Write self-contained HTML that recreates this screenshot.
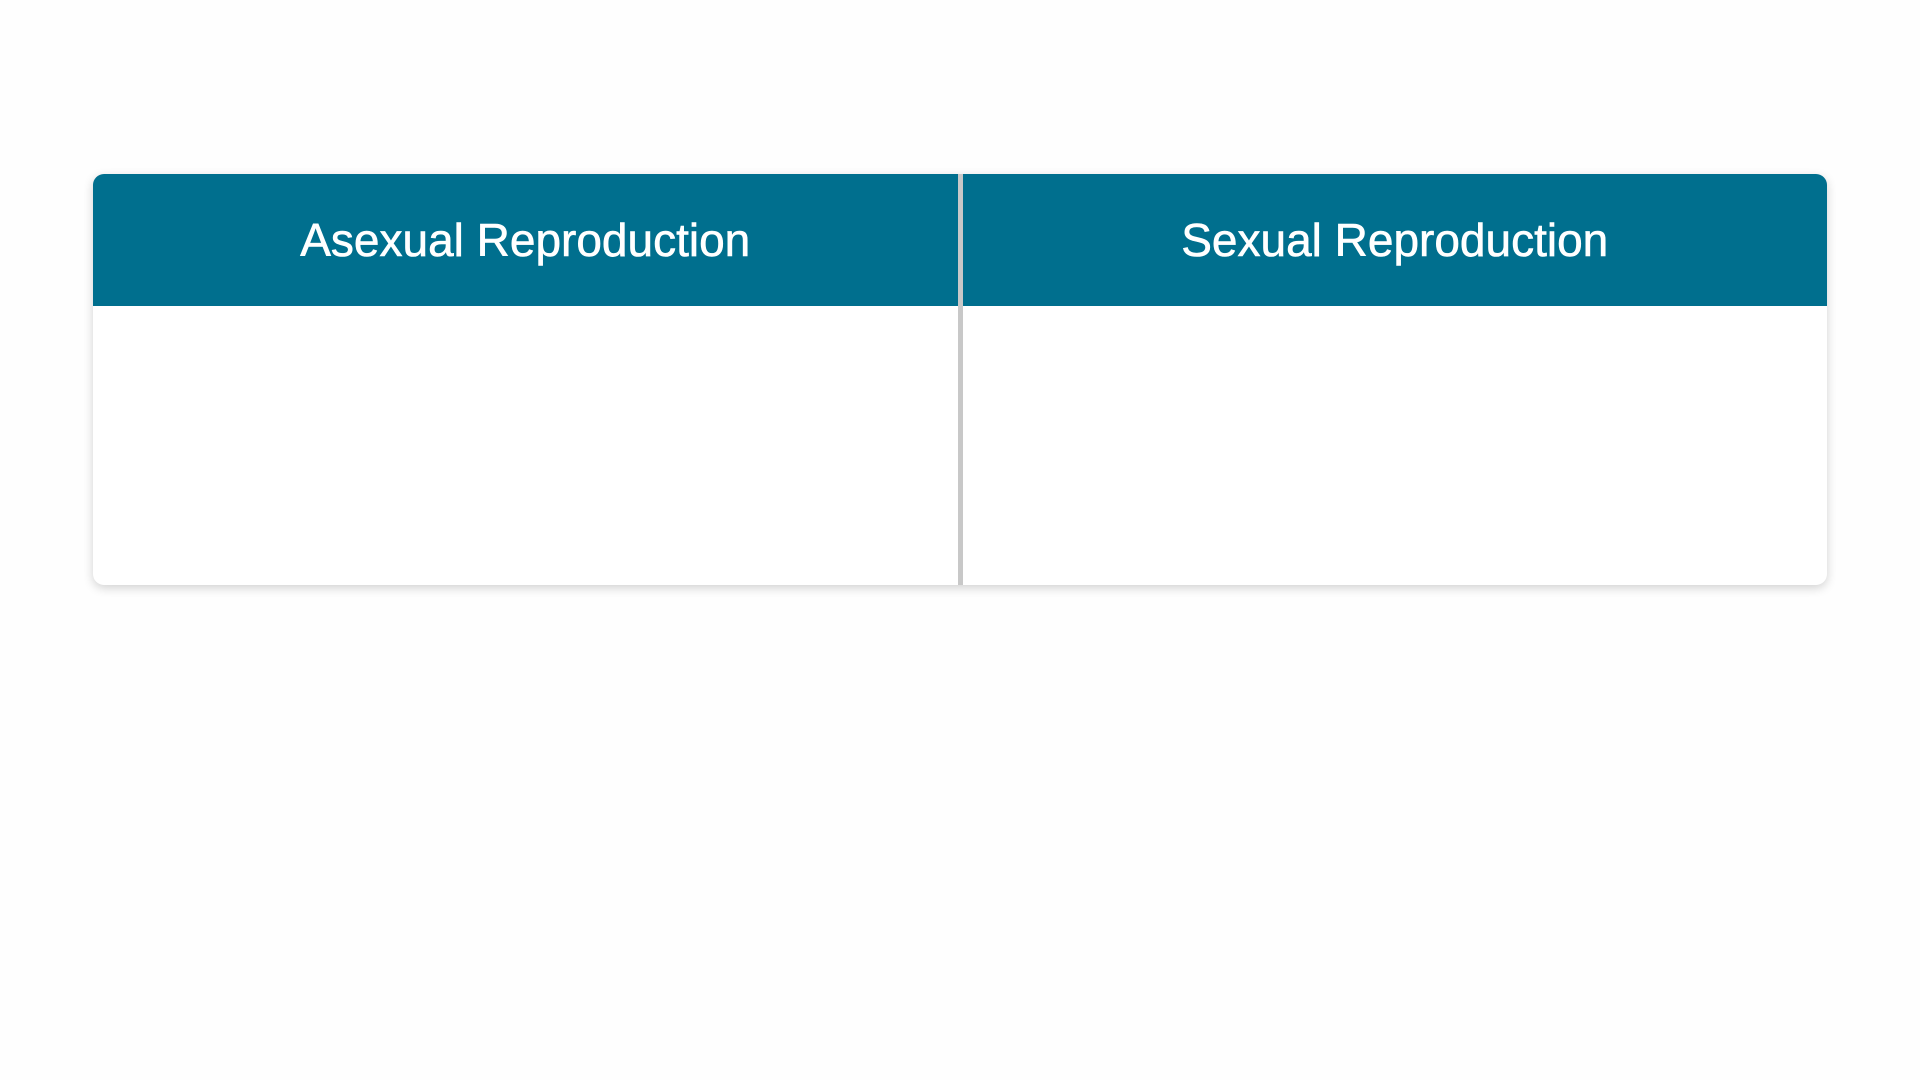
<!DOCTYPE html>
<html><head><meta charset="utf-8"><style>
html,body{margin:0;padding:0;width:1920px;height:1080px;background:#fefefe;overflow:hidden;font-family:"Liberation Sans",sans-serif}
.card{position:absolute;left:93px;top:174px;width:1734px;height:411px;background:#fff;border-radius:11px;box-shadow:0 3px 10px rgba(0,0,0,0.18);overflow:hidden;display:flex}
.col{flex:1;display:flex;flex-direction:column}
.head{height:132px;background:#006f8e;color:#fff;font-size:46px;display:flex;align-items:center;justify-content:center;-webkit-text-stroke:0.6px #fff}
.div{width:5px;background:#c8c8c8}
</style></head><body>
<div class="card">
<div class="col"><div class="head">Asexual Reproduction</div><div style="flex:1"></div></div>
<div class="div"></div>
<div class="col"><div class="head">Sexual Reproduction</div><div style="flex:1"></div></div>
</div>
</body></html>
